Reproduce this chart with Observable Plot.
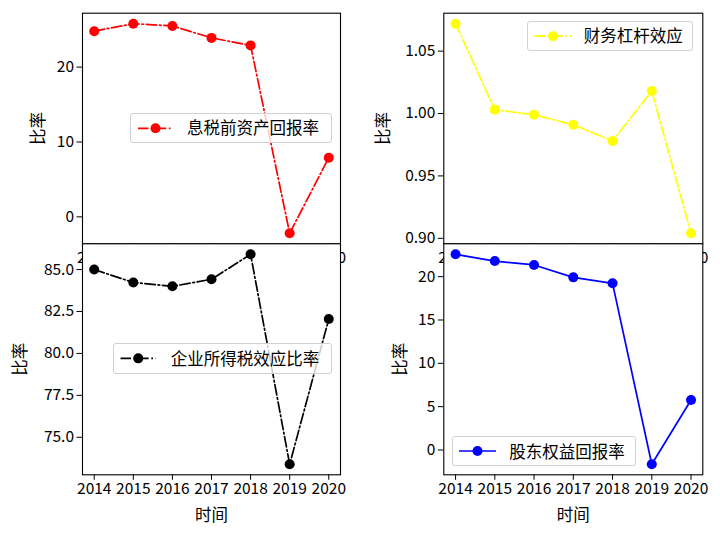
<!DOCTYPE html>
<html>
<head>
<meta charset="utf-8">
<script src="https://cdn.jsdelivr.net/npm/d3@7"></script>
<script src="https://cdn.jsdelivr.net/npm/@observablehq/plot@0.6"></script>
<style>
  html, body { margin: 0; padding: 0; background: white; }
  #chart { position: relative; width: 720px; height: 537px; overflow: hidden; font-family: 'Noto Sans CJK SC', sans-serif; }
  .legend { position: absolute; border: 1px solid #d0d0d0; border-radius: 3px; background: rgba(255,255,255,0.8); box-sizing: border-box; }
  .legend svg { position: absolute; top: 0; left: 0; overflow: visible; }
  .legend span { position: absolute; font-size: 16.5px; line-height: 1; white-space: nowrap; color: #000; }
</style>
</head>
<body>
<div id="chart"></div>
<script>
// ---- data ----
const years = [2014, 2015, 2016, 2017, 2018, 2019, 2020];
const ebitRoa = [24.8, 25.8, 25.5, 23.9, 22.9, -2.2, 7.9];          // 息税前资产回报率
const leverage = [1.072, 1.003, 0.999, 0.991, 0.978, 1.018, 0.904]; // 财务杠杆效应
const taxRatio = [85.0, 84.23, 84.0, 84.42, 85.91, 73.39, 82.05];   // 企业所得税效应比率
const roe = [22.58, 21.8, 21.35, 19.92, 19.23, -1.65, 5.77];        // 股东权益回报率

const names = ["息税前资产回报率", "财务杠杆效应", "企业所得税效应比率", "股东权益回报率"];
const yTicksTL = [0, 10, 20];
const yTicksTR = [0.90, 0.95, 1.00, 1.05];
const yTicksBL = [75.0, 77.5, 80.0, 82.5, 85.0];
const yTicksBR = [0, 5, 10, 15, 20];
const yLabel = "比率";
const xLabel = "时间";

const W = 720, H = 537;
const FONT = "'Noto Sans CJK SC', sans-serif";
const dashDot = "10.5,2.7,1.7,2.7";

function pad(ext) { const d = (ext[1] - ext[0]) * 0.05; return [ext[0] - d, ext[1] + d]; }

function panel({values, color, dash, box, ticks, fmt, cover, yLabOff, showXLabel}) {
  const data = years.map((yr, i) => ({year: yr, v: values[i]}));
  const [L, T, R, B] = box;
  const marks = [];
  if (cover) marks.push(Plot.frame({fill: "white", stroke: "none"}));
  marks.push(
    Plot.line(data, {x: "year", y: "v", stroke: color, strokeWidth: 1.7, strokeDasharray: dash}),
    Plot.dot(data, {x: "year", y: "v", r: 5, fill: color, stroke: "none"}),
    Plot.frame({stroke: "black", strokeWidth: 1.1}),
    Plot.axisX({ticks: years, tickFormat: "d", tickSize: 5.5, tickPadding: 3, label: null, fontSize: 15.5}),
    Plot.axisY({ticks: ticks, tickFormat: fmt, tickSize: 5.5, tickPadding: 3, label: null, fontSize: 15.5}),
    Plot.text([yLabel], {frameAnchor: "left", dx: -yLabOff, rotate: -90, textAnchor: "middle", lineAnchor: "middle", fontSize: 16.5})
  );
  if (showXLabel) marks.push(Plot.text([xLabel], {frameAnchor: "bottom", dy: 41, textAnchor: "middle", lineAnchor: "middle", fontSize: 16.5}));
  return Plot.plot({
    width: W, height: H,
    marginLeft: L, marginTop: T, marginRight: W - R, marginBottom: H - B,
    x: {domain: [2013.7, 2020.3]},
    y: {domain: pad(d3.extent(values))},
    style: {position: "absolute", left: "0px", top: "0px", background: "transparent", overflow: "visible", fontFamily: FONT, fontSize: "15.5px", color: "black", maxWidth: "none"},
    marks
  });
}

const chart = document.getElementById("chart");
chart.append(panel({values: ebitRoa, color: "#ff0000", dash: dashDot, box: [82, 12.7, 340, 243.3], ticks: yTicksTL, fmt: d3.format("d"), cover: false, yLabOff: 44, showXLabel: false}));
chart.append(panel({values: leverage, color: "#ffff00", dash: dashDot, box: [443.3, 12.7, 702.3, 243.3], ticks: yTicksTR, fmt: d3.format(".2f"), cover: false, yLabOff: 60, showXLabel: false}));
chart.append(panel({values: taxRatio, color: "#000000", dash: dashDot, box: [82, 243.3, 340, 474.3], ticks: yTicksBL, fmt: d3.format(".1f"), cover: true, yLabOff: 62, showXLabel: true}));
chart.append(panel({values: roe, color: "#0000ff", dash: null, box: [443.3, 243.3, 702.3, 474.3], ticks: yTicksBR, fmt: d3.format("d"), cover: true, yLabOff: 43, showXLabel: true}));

// ---- legends ----
function legend({name, color, dash, left, top, width, height, lineX0, lineX1, textX}) {
  const div = document.createElement("div");
  div.className = "legend";
  Object.assign(div.style, {left: left + "px", top: top + "px", width: width + "px", height: height + "px"});
  const cy = height / 2 - 1;
  const ns = "http://www.w3.org/2000/svg";
  const svg = document.createElementNS(ns, "svg");
  svg.setAttribute("width", width); svg.setAttribute("height", height);
  const ln = document.createElementNS(ns, "line");
  ln.setAttribute("x1", lineX0); ln.setAttribute("x2", lineX1);
  ln.setAttribute("y1", cy); ln.setAttribute("y2", cy);
  ln.setAttribute("stroke", color); ln.setAttribute("stroke-width", 1.7);
  if (dash) ln.setAttribute("stroke-dasharray", dash);
  const c = document.createElementNS(ns, "circle");
  c.setAttribute("cx", (lineX0 + lineX1) / 2); c.setAttribute("cy", cy); c.setAttribute("r", 5);
  c.setAttribute("fill", color);
  svg.append(ln, c);
  const sp = document.createElement("span");
  sp.textContent = name;
  Object.assign(sp.style, {left: textX + "px", top: (cy - 8.5) + "px"});
  div.append(svg, sp);
  chart.append(div);
}
legend({name: names[0], color: "#ff0000", dash: dashDot, left: 130, top: 112.7, width: 202, height: 30.6, lineX0: 7, lineX1: 42, textX: 56});
legend({name: names[1], color: "#ffff00", dash: dashDot, left: 526.7, top: 20.7, width: 166.6, height: 30.4, lineX0: 6.5, lineX1: 43.5, textX: 56});
legend({name: names[2], color: "#000000", dash: dashDot, left: 113.3, top: 343.3, width: 218.4, height: 30.7, lineX0: 6.5, lineX1: 42, textX: 56.5});
legend({name: names[3], color: "#0000ff", dash: null, left: 452.3, top: 436, width: 183.7, height: 30, lineX0: 6, lineX1: 43, textX: 56});
</script>
</body>
</html>
